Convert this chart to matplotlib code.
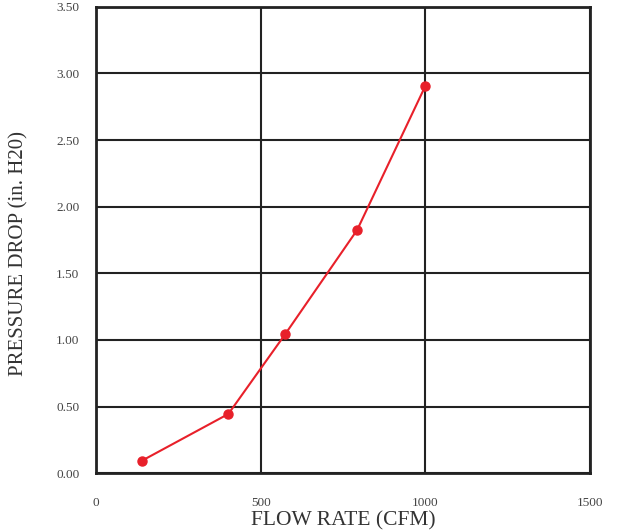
import matplotlib
matplotlib.use('Agg')
import matplotlib.pyplot as plt
from matplotlib.ticker import FormatStrFormatter

flow_rate = [140, 402, 575, 793, 1000]
pressure_drop = [0.095, 0.445, 1.045, 1.825, 2.905]

x_ticks = [0, 500, 1000, 1500]
y_ticks = [0.0, 0.5, 1.0, 1.5, 2.0, 2.5, 3.0, 3.5]

plt.rcParams['font.family'] = ['Liberation Serif', 'DejaVu Serif']

fig = plt.figure(figsize=(6.24, 5.31), dpi=100)
ax = fig.add_axes([0.1538, 0.1087, 0.7917, 0.8787])

ax.plot(flow_rate, pressure_drop, color='#e8202a', linewidth=1.5,
        marker='o', markersize=6.5, zorder=3, clip_on=False)

ax.set_xlim(0, 1500)
ax.set_ylim(0, 3.5)
ax.set_xticks(x_ticks)
ax.set_yticks(y_ticks)
ax.yaxis.set_major_formatter(FormatStrFormatter('%.2f'))
ax.grid(True, color='#222222', linewidth=1.5)
ax.set_axisbelow(True)
ax.tick_params(length=0, labelsize=9.5, colors='#444444')
ax.tick_params(axis='x', pad=17)
ax.tick_params(axis='y', pad=12)
for s in ax.spines.values():
    s.set_linewidth(2)
    s.set_color('#222222')

ax.set_xlabel('FLOW RATE (CFM)', fontsize=15.5, color='#333333', va='baseline')
ax.xaxis.set_label_coords(0.5, -0.111)
ax.set_ylabel('PRESSURE DROP (in. H20)', fontsize=15, color='#333333', va='center')
ax.yaxis.set_label_coords(-0.156, 0.47)

fig.savefig('out.png', dpi=100)
